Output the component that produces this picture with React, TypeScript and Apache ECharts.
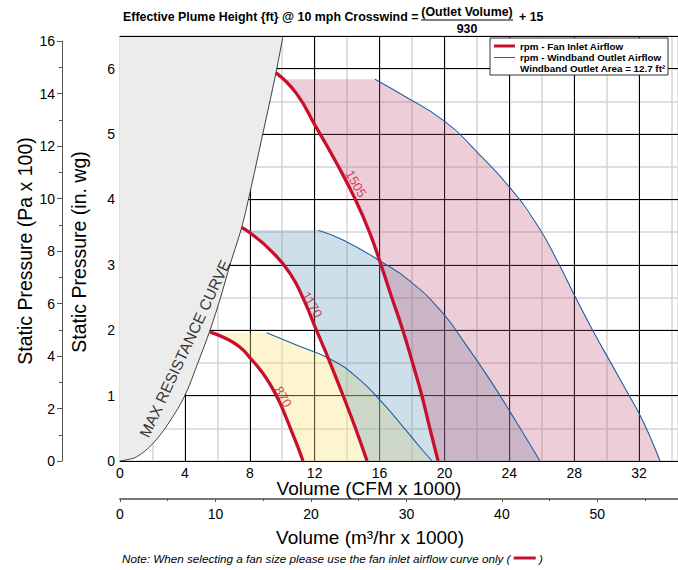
import React, { useEffect, useRef } from 'react';
import * as echarts from 'echarts';

const FONT = '"Liberation Sans", Arial, Helvetica, sans-serif';
const RED = '#c8102e';
const BLUE = '#1d5fa5';

// ---- data (x: CFM x 1000, y: in. wg) ----
const maxResCurve = [
  [0, 0], [1, 0.06], [2, 0.26], [3, 0.58], [4, 1.0], [4.8, 1.5], [5.55, 2.0], [6.2, 2.5],
  [6.78, 3.0], [7.5, 3.57], [8.0, 4.09], [8.8, 5.0], [9.6, 5.92], [10.05, 6.5],
];
const rpmNames = ['870', '1170', '1505'];
const inlet870 = [[5.55, 1.97], [6.47, 1.88], [7.4, 1.74], [8.08, 1.56], [8.75, 1.36], [9.31, 1.15], [9.8, 0.92], [10.2, 0.69], [10.57, 0.46], [10.94, 0.23], [11.28, 0]];
const inlet1170 = [[7.5, 3.57], [8.01, 3.49], [9.25, 3.23], [10.48, 2.87], [11.34, 2.46], [12.11, 2.0], [12.89, 1.54], [13.69, 1.04], [14.49, 0.52], [15.23, 0]];
const inlet1505 = [[9.6, 5.94], [10.85, 5.63], [12.08, 5.11], [13.32, 4.57], [14.43, 4.04], [15.35, 3.52], [16.09, 3.0], [16.77, 2.49], [17.45, 1.99], [18.06, 1.48], [18.62, 0.99], [19.11, 0.49], [19.61, 0]];
const outlet870 = [[9.04, 1.96], [10.91, 1.77], [12.95, 1.56], [14.61, 1.28], [16.03, 0.93], [17.26, 0.58], [18.5, 0.21], [19.24, 0]];
const outlet1170 = [[12.23, 3.53], [13.75, 3.38], [16.03, 3.06], [17.88, 2.75], [19.73, 2.31], [21.27, 1.8], [22.81, 1.24], [24.35, 0.63], [25.89, 0]];
const outlet1505 = [[15.72, 5.84], [17.26, 5.62], [20.04, 5.19], [22.07, 4.71], [24.04, 4.18], [25.77, 3.59], [26.94, 3.07], [28.11, 2.49], [29.18, 1.98], [30.33, 1.47], [31.44, 0.98], [32.06, 0.7], [32.68, 0.37], [33.29, 0]];
const rpmLabelAt = [[10.05, 0.98], [11.84, 2.39], [14.55, 4.24]];
const maxResLabelAt = [4.0, 1.72];

// axis extents
const cfmMax = 34.4;
const wgMax = 6.5;
const paMax = 16;
const m3PerCfm = 1.699;

const inlets = [inlet870, inlet1170, inlet1505];
const outlets = [outlet870, outlet1170, outlet1505];
const fills = ['rgba(249,226,121,0.35)', 'rgba(95,148,182,0.3)', 'rgba(191,76,112,0.28)'];

function interpX(curve: number[][], y: number) {
  for (let i = 0; i < curve.length - 1; i++) {
    const a = curve[i], b = curve[i + 1];
    if (a[1] >= y && b[1] <= y) {
      const t = (a[1] - y) / (a[1] - b[1] || 1);
      return a[0] + t * (b[0] - a[0]);
    }
  }
  return curve[0][0];
}
function regionPoly(inlet: number[][], outlet: number[][]) {
  const top = outlet[0][1];
  const corner = inlet[0][1] <= top ? inlet[0] : [interpX(inlet, top), top];
  const below = inlet.filter((p) => p[1] < top).slice().reverse();
  return [corner, ...outlet, ...below];
}

function polySeries(poly: number[][], fill: string, z: number) {
  return {
    type: 'custom',
    xAxisIndex: 0,
    yAxisIndex: 0,
    clip: true,
    z,
    silent: true,
    data: [[0, 0]],
    renderItem: (_p: any, api: any) => ({
      type: 'polygon',
      shape: { points: poly.map((p) => api.coord(p)) },
      style: { fill, stroke: 'none' },
    }),
  };
}

function lineSeries(data: number[][], color: string, width: number, z: number, smooth = 0.5) {
  return {
    type: 'line',
    xAxisIndex: 0,
    yAxisIndex: 0,
    data,
    symbol: 'none',
    smooth,
    z,
    silent: true,
    lineStyle: { color, width },
  };
}

export default function App() {
  const ref = useRef<HTMLDivElement>(null);
  useEffect(() => {
    if (!ref.current) return;
    const chart = echarts.init(ref.current, null, { renderer: 'svg' });
    const txt = (text: string, x: number, y: number, extra: any = {}, rot = 0) => ({
      type: 'text',
      x,
      y,
      rotation: rot,
      z: 100,
      silent: true,
      style: { text, fill: '#000', fontFamily: FONT, fontSize: 13, align: 'left', verticalAlign: 'middle', ...extra },
    });
    const series: any[] = [];
    series.push(polySeries([...maxResCurve, [0, wgMax]], '#ececec', 2));
    inlets.forEach((inl, i) => series.push(polySeries(regionPoly(inl, outlets[i]), fills[i], 3)));
    series.push(lineSeries(maxResCurve, '#111', 0.8, 4, 0.3));
    outlets.forEach((o) => series.push(lineSeries(o, BLUE, 1.1, 5)));
    inlets.forEach((o) => series.push(lineSeries(o, RED, 3.3, 6)));
    rpmNames.forEach((name, i) =>
      series.push({
        type: 'scatter',
        xAxisIndex: 0,
        yAxisIndex: 0,
        z: 10,
        silent: true,
        symbolSize: 1,
        itemStyle: { color: 'transparent' },
        data: [rpmLabelAt[i]],
        label: {
          show: true,
          position: 'inside',
          formatter: name,
          rotate: -60,
          color: RED,
          fontSize: 13,
          fontFamily: FONT,
        },
      })
    );
    series.push({
      type: 'scatter',
      xAxisIndex: 0,
      yAxisIndex: 0,
      z: 10,
      silent: true,
      symbolSize: 1,
      itemStyle: { color: 'transparent' },
      data: [maxResLabelAt],
      label: {
        show: true,
        position: 'inside',
        formatter: 'MAX RESISTANCE CURVE',
        rotate: 65,
        color: '#000',
        fontSize: 15.5,
        fontFamily: FONT,
      },
    });

    const hidden = { axisLine: { show: false }, axisTick: { show: false }, axisLabel: { show: false } };
    const bold = { fontWeight: 'bold', fontSize: 12.4 };
    const legendText = { fontWeight: 'bold', fontSize: 9.8 };
    const option: any = {
      animation: false,
      grid: [
        { left: 120, right: 0, top: 36, bottom: 109 },
        { left: 62, width: 1, top: 41, bottom: 109 },
      ],
      xAxis: [
        {
          type: 'value', gridIndex: 0, min: 0, max: cfmMax, interval: 4, z: 1,
          axisLine: { show: true, onZero: false, lineStyle: { color: '#000', width: 1 } },
          axisTick: { show: false },
          axisLabel: { color: '#000', fontSize: 14, fontFamily: FONT, margin: 5, showMaxLabel: false },
          splitLine: { show: true, lineStyle: { color: '#000', width: 1 } },
        },
        {
          type: 'value', gridIndex: 0, min: 0, max: cfmMax, interval: 2, z: 0, ...hidden,
          splitLine: { show: true, lineStyle: { color: '#d4d4d4', width: 1.5 } },
        },
        {
          type: 'value', gridIndex: 0, position: 'bottom', offset: 38, min: 0, max: cfmMax * m3PerCfm, interval: 10, z: 1,
          axisLine: { show: true, onZero: false, lineStyle: { color: '#777', width: 2 } },
          axisTick: { show: true, length: 3, lineStyle: { color: '#555' } },
          minorTick: { show: true, splitNumber: 2, length: 2, lineStyle: { color: '#555' } },
          axisLabel: { color: '#000', fontSize: 14, fontFamily: FONT, margin: 8, showMaxLabel: false },
          splitLine: { show: false },
        },
        {
          type: 'value', gridIndex: 0, position: 'top', min: 0, max: cfmMax, z: 8,
          axisLine: { show: true, onZero: false, lineStyle: { color: '#000', width: 1 } },
          axisTick: { show: false }, axisLabel: { show: false }, splitLine: { show: false },
        },
        { type: 'value', gridIndex: 1, show: false, min: 0, max: 1 },
      ],
      yAxis: [
        {
          type: 'value', gridIndex: 0, min: 0, max: wgMax, interval: 1, z: 1,
          axisLine: { show: false, onZero: false },
          axisTick: { show: false },
          axisLabel: { color: '#000', fontSize: 14, fontFamily: FONT, margin: 5, showMaxLabel: false },
          splitLine: { show: true, lineStyle: { color: '#000', width: 1 } },
        },
        {
          type: 'value', gridIndex: 0, min: 0, max: wgMax, interval: 0.5, z: 0, ...hidden,
          splitLine: { show: true, lineStyle: { color: '#d4d4d4', width: 1.5 } },
        },
        {
          type: 'value', gridIndex: 1, min: 0, max: paMax, interval: 2, position: 'left',
          axisLine: { show: true, onZero: false, lineStyle: { color: '#555', width: 1 } },
          axisTick: { show: true, length: 5, lineStyle: { color: '#555' } },
          minorTick: { show: true, splitNumber: 2, length: 3, lineStyle: { color: '#555' } },
          axisLabel: { color: '#000', fontSize: 14, fontFamily: FONT, margin: 7 },
          splitLine: { show: false },
        },
        {
          type: 'value', gridIndex: 0, min: 0, max: wgMax, z: 8,
          axisLine: { show: true, onZero: false, lineStyle: { color: '#888', width: 1 } },
          axisTick: { show: false }, axisLabel: { show: false }, splitLine: { show: false },
        },
      ],
      series,
      graphic: [
        txt('Effective Plume Height {ft} @ 10 mph Crosswind =', 123, 17, bold),
        txt('(Outlet Volume)', 467, 12, { align: 'center', ...bold }),
        { type: 'line', z: 100, silent: true, shape: { x1: 421, y1: 20, x2: 513, y2: 20 }, style: { stroke: '#000', lineWidth: 1 } },
        txt('930', 467, 29, { align: 'center', ...bold }),
        txt('+ 15', 519, 17, bold),
        txt('Static Pressure (Pa x 100)', 25, 251, { align: 'center', fontSize: 19.5 }, Math.PI / 2),
        txt('Static Pressure (in. wg)', 79, 252, { align: 'center', fontSize: 19.5 }, Math.PI / 2),
        txt('Volume (CFM x 1000)', 369, 488, { align: 'center', fontSize: 19 }),
        txt('Volume (m³/hr x 1000)', 370, 537, { align: 'center', fontSize: 19 }),
        txt('Note: When selecting a fan size please use the fan inlet airflow curve only ( {bar|} )', 122, 558, {
          fontSize: 11.7,
          fontStyle: 'italic',
          rich: { bar: { width: 22, height: 3, backgroundColor: RED, verticalAlign: 'middle' } },
        }),
        { type: 'rect', z: 100, silent: true, shape: { x: 490, y: 38, width: 178, height: 37 }, style: { fill: '#fff', stroke: '#333', lineWidth: 1 } },
        { type: 'line', z: 101, silent: true, shape: { x1: 494, y1: 46, x2: 515, y2: 46 }, style: { stroke: RED, lineWidth: 3 } },
        { type: 'line', z: 101, silent: true, shape: { x1: 494, y1: 57.5, x2: 515, y2: 57.5 }, style: { stroke: BLUE, lineWidth: 1 } },
        { ...txt('rpm - Fan Inlet Airflow', 520, 46, legendText), z: 101 },
        { ...txt('rpm - Windband Outlet Airflow', 520, 57.5, legendText), z: 101 },
        { ...txt('Windband Outlet Area = 12.7 ft²', 520, 68.5, legendText), z: 101 },
      ],
    };
    chart.setOption(option);
    return () => chart.dispose();
  }, []);
  return <div ref={ref} style={{ position: 'absolute', left: 0, top: 0, width: 678, height: 570 }} />;
}
